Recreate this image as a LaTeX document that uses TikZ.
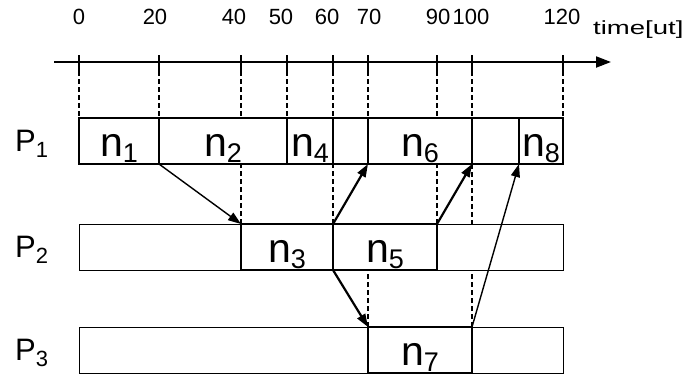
\documentclass[tikz,border=0pt]{standalone}
\usepackage{fontspec}
\setmainfont{Liberation Sans}
\usetikzlibrary{arrows.meta}
\newcommand\tsub[2]{#1\raisebox{-6pt}{\fontsize{27}{27}\selectfont #2}}
\newcommand\psub[2]{#1\raisebox{-6pt}{\fontsize{22}{22}\selectfont #2}}
\begin{document}
\begin{tikzpicture}[x=1pt,y=-1pt,
  rowbox/.style={draw, line width=0.8pt, minimum height=46pt, inner sep=0pt, outer sep=0pt, anchor=north west},
  task/.style={draw, line width=1.3pt, minimum height=46pt, inner sep=0pt, outer sep=0pt, anchor=north west,
    font=\fontsize{41}{42}\selectfont, text height=31pt, text depth=1pt},
  tlabel/.style={anchor=base, inner sep=0pt, font=\fontsize{22}{23}\selectfont},
  plabel/.style={anchor=base west, inner sep=0pt, font=\fontsize{31}{32}\selectfont},
  guide/.style={line width=1.1pt, dash pattern=on 5pt off 3pt},
  tick/.style={line width=1.2pt},
  msg/.style={line width=2.2pt, -{Triangle[length=13pt,width=9pt]}},
  thinmsg/.style={line width=1.4pt, -{Triangle[length=13pt,width=9pt]}},
]
\useasboundingbox (0,0) rectangle (691,376);

% time axis
\coordinate (axs) at (54,62);
\coordinate (axe) at (611,62);
\draw[line width=2pt, -{Triangle[length=15pt,width=11pt]}] (axs) -- (axe);

% rows
\node[rowbox, minimum width=484pt] (R1) at (79,118) {};
\node[rowbox, minimum width=484pt] (R2) at (79,224) {};
\node[rowbox, minimum width=484pt] (R3) at (79,327) {};

% processor labels
\node[plabel] (P1) at (15,151) {\psub{P}{1}};
\node[plabel] (P2) at (15,257) {\psub{P}{2}};
\node[plabel] (P3) at (15,360) {\psub{P}{3}};

% tasks P1
\node[task, minimum width=80pt] (n1) at (79,118) {\tsub{n}{1}};
\node[task, minimum width=128pt] (n2) at (159,118) {\tsub{n}{2}};
\node[task, minimum width=46pt] (n4) at (287,118) {\tsub{n}{4}};
\node[task, minimum width=35pt] (g1) at (333,118) {};
\node[task, minimum width=104pt] (n6) at (368,118) {\tsub{n}{6}};
\node[task, minimum width=47pt] (g2) at (472,118) {};
\node[task, minimum width=44pt] (n8) at (519,118) {\tsub{n}{8}};
% tasks P2
\node[task, minimum width=92pt] (n3) at (241,224) {\tsub{n}{3}};
\node[task, minimum width=104pt] (n5) at (333,224) {\tsub{n}{5}};
% tasks P3
\node[task, minimum width=104pt] (n7) at (368,327) {\tsub{n}{7}};

% ticks, labels and guide lines
\foreach \x/\lx/\t/\n in {79/79/0/a,159/155/20/b,241/234/40/c,287/281/50/d,333/327/60/e,368/369/70/f,437/438/90/g,472/471/100/h,563/562/120/i}{
  \coordinate (t\n) at (\x,62);
  \node[tlabel] (l\n) at (\lx,24) {\t};
  \draw[tick] ([yshift=-13pt]t\n) -- ([yshift=7pt]t\n);
  \draw[guide] ([yshift=7pt]t\n) -- (t\n |- R1.north);
}
\node[anchor=base west, inner sep=0pt, font=\fontsize{19}{20}\selectfont] (tu) at (593,34) {\scalebox{1.45}[1]{time[ut]}};

% guides between P1 and P2
\draw[guide] (n3.north west) -- (n3.north west |- R1.south);
\draw[guide] (n3.north east) -- (n3.north east |- R1.south);
\draw[guide] (n5.north east) -- (n5.north east |- R1.south);
\draw[guide] (n6.south east) -- (n6.south east |- R2.north);
% guides between P2 and P3
\draw[guide] (n7.north west) -- (n7.north west |- R2.south);
\draw[guide] (n7.north east) -- (n7.north east |- R2.south);

% messages
\draw[thinmsg] (n1.south east) -- (n3.north west);
\draw[msg] (n3.north east) -- (n6.south west);
\draw[msg] (n5.north east) -- (n6.south east);
\draw[msg] (n3.south east) -- (n7.north west);
\draw[thinmsg] (n7.north east) -- (n8.south west);
\end{tikzpicture}
\end{document}
